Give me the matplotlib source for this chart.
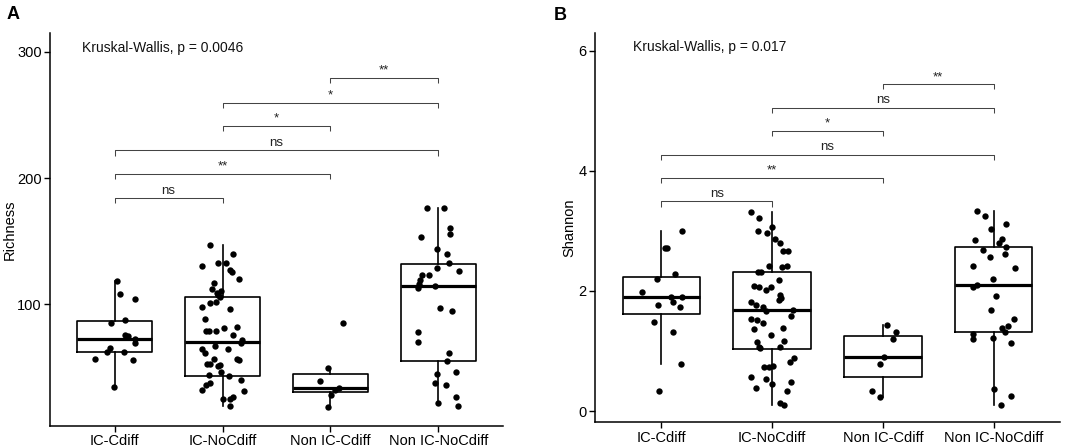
import matplotlib
matplotlib.use("Agg")
import matplotlib.pyplot as plt

plt.rcParams["font.family"] = ["Liberation Sans", "DejaVu Sans"]

# ============================================================
# DATA
# ============================================================

groups = ["IC-Cdiff", "IC-NoCdiff", "Non IC-Cdiff", "Non IC-NoCdiff"]

# --- Richness: jittered samples (value, horizontal jitter) ---
rich_vals = [
    [118.3, 107.8, 103.9, 85.5, 87.5, 75.7, 74.9, 72.3, 69.7, 65.2, 62.6, 62.2,
     57.0, 56.2, 34.9],
    [147.3, 140.2, 130.7, 132.9, 132.9, 127.0, 125.5, 120.2, 117.0, 112.3, 109.2,
     110.4, 107.0, 105.7, 97.8, 100.7, 101.7, 96.0, 88.0, 78.8, 78.8, 78.8, 81.0,
     82.3, 75.4, 71.5, 69.7, 64.4, 61.8, 67.0, 64.4, 57.0, 52.5, 53.0, 51.2, 52.0,
     56.4, 56.0, 44.4, 46.4, 42.9, 39.9, 35.9, 38.1, 32.0, 31.5, 24.9, 24.9, 26.7,
     19.6],
    [85.5, 49.4, 39.6, 33.8, 32.0, 28.6, 18.8],
    [176.3, 176.3, 160.2, 155.7, 153.4, 143.6, 140.0, 133.1, 129.1, 126.7, 123.3,
     123.3, 119.1, 115.7, 113.3, 114.9, 97.3, 94.4, 77.8, 70.5, 61.8, 54.9, 45.2,
     46.2, 38.1, 35.9, 26.7, 22.0, 19.4],
]
rich_jit = [
    [0.02, 0.05, 0.19, -0.03, 0.10, 0.10, 0.12, 0.19, 0.19, -0.04, -0.07, 0.09,
     -0.18, 0.17, -0.01],
    [-0.12, 0.10, -0.19, -0.04, 0.03, 0.07, 0.09, 0.15, -0.08, -0.10, -0.05,
     -0.01, -0.04, -0.02, -0.19, -0.12, -0.06, 0.07, -0.16, -0.15, -0.13, -0.06,
     0.01, 0.13, 0.10, 0.18, 0.17, -0.19, -0.16, -0.07, 0.05, -0.08, -0.14, -0.12,
     -0.04, -0.02, 0.13, 0.15, -0.13, -0.01, 0.06, 0.17, -0.15, -0.12, -0.19,
     0.20, 0.00, 0.07, 0.10, 0.07],
    [0.12, -0.02, -0.10, 0.08, 0.04, 0.01, -0.02],
    [-0.10, 0.05, 0.11, 0.11, -0.16, -0.01, 0.08, 0.10, -0.01, 0.19, -0.15,
     -0.09, -0.17, -0.18, -0.19, -0.03, 0.02, 0.13, -0.19, -0.19, 0.10, 0.08,
     -0.01, 0.16, -0.03, 0.07, 0.16, 0.00, 0.18],
]
# box statistics: lower whisker, q1, median, q3, upper whisker
rich_lo = [34.9, 19.6, 19.1, 22.3]
rich_q1 = [62.6, 43.6, 30.6, 54.9]
rich_med = [72.8, 69.9, 33.8, 114.7]
rich_q3 = [86.7, 105.7, 44.9, 132.3]
rich_hi = [118.3, 147.3, 49.1, 176.3]

rich_pairs = [(1, 2), (1, 3), (1, 4), (2, 3), (2, 4), (3, 4)]
rich_bracket_y = [184.0, 203.4, 221.8, 241.0, 259.7, 279.0]
rich_labels = ["ns", "**", "ns", "*", "*", "**"]
rich_kw = "Kruskal-Wallis, p = 0.0046"

# --- Shannon ---
shan_vals = [
    [3.00, 2.71, 2.71, 2.29, 2.20, 1.98, 1.90, 1.90, 1.82, 1.76, 1.74, 1.49,
     1.31, 0.79, 0.33],
    [3.32, 3.21, 3.06, 3.00, 2.96, 2.87, 2.79, 2.67, 2.67, 2.41, 2.40, 2.41,
     2.32, 2.31, 2.19, 2.08, 2.07, 2.01, 2.07, 1.94, 1.89, 1.85, 1.82, 1.76,
     1.73, 1.67, 1.69, 1.59, 1.54, 1.51, 1.47, 1.37, 1.39, 1.26, 1.15, 1.17,
     1.07, 1.05, 1.06, 0.88, 0.82, 0.73, 0.73, 0.745, 0.56, 0.53, 0.45, 0.48,
     0.38, 0.34, 0.14, 0.095],
    [1.43, 1.31, 1.20, 0.90, 0.79, 0.33, 0.23],
    [3.33, 3.245, 3.12, 3.03, 2.87, 2.84, 2.79, 2.73, 2.68, 2.61, 2.57, 2.41,
     2.39, 2.20, 2.07, 2.095, 1.91, 1.69, 1.54, 1.42, 1.39, 1.32, 1.29, 1.20,
     1.22, 1.13, 0.36, 0.245, 0.105],
]
shan_jit = [
    [0.19, 0.03, 0.05, 0.12, -0.04, -0.18, 0.09, 0.19, 0.10, -0.03, 0.17,
     -0.07, 0.10, 0.18, -0.02],
    [-0.19, -0.12, 0.00, -0.13, -0.05, 0.03, 0.07, 0.10, 0.14, -0.03, 0.09,
     0.13, -0.13, -0.10, 0.06, -0.16, -0.12, -0.06, -0.01, 0.07, 0.08, 0.06,
     -0.19, -0.15, -0.08, -0.06, 0.19, 0.17, -0.19, -0.14, -0.08, -0.16, 0.10,
     -0.01, -0.14, 0.11, -0.12, -0.11, 0.07, 0.20, 0.16, -0.07, -0.03, 0.01,
     -0.19, -0.06, 0.00, 0.17, -0.15, 0.13, 0.07, 0.11],
    [0.04, 0.12, 0.09, 0.01, -0.03, -0.10, -0.03],
    [-0.15, -0.08, 0.11, -0.02, 0.08, -0.17, 0.05, 0.11, -0.10, 0.10, -0.03,
     -0.19, 0.19, -0.01, -0.19, -0.15, 0.02, -0.02, 0.18, 0.13, 0.08, 0.10,
     -0.19, -0.19, -0.01, 0.16, 0.00, 0.16, 0.07],
]
shan_lo = [0.79, 0.095, 0.233, 0.106]
shan_q1 = [1.617, 1.033, 0.562, 1.317]
shan_med = [1.895, 1.69, 0.906, 2.095]
shan_q3 = [2.233, 2.317, 1.25, 2.733]
shan_hi = [2.995, 3.317, 1.428, 3.333]

shan_pairs = [(1, 2), (1, 3), (1, 4), (2, 3), (2, 4), (3, 4)]
shan_bracket_y = [3.49, 3.88, 4.27, 4.66, 5.05, 5.44]
shan_labels = ["ns", "**", "ns", "*", "ns", "**"]
shan_kw = "Kruskal-Wallis, p = 0.017"

# ============================================================
# PLOTTING
# ============================================================


def draw_panel(ax, vals, jit, lo, q1, med, q3, hi, pairs, bys, labels,
               kw_text, kw_pos, ylim, yticks, ylabel, tip):
    stats = []
    for i in range(len(groups)):
        stats.append(dict(whislo=lo[i], q1=q1[i], med=med[i], q3=q3[i],
                          whishi=hi[i], fliers=[]))
    ax.bxp(stats, positions=range(1, len(groups) + 1), widths=0.7,
           showfliers=False, showcaps=False,
           boxprops=dict(color="black", linewidth=1.2),
           whiskerprops=dict(color="black", linewidth=1.2),
           medianprops=dict(color="black", linewidth=2.3))

    for i, (v, j) in enumerate(zip(vals, jit)):
        xs = [i + 1 + d for d in j]
        ax.scatter(xs, v, s=21, color="black", zorder=3, linewidths=0)

    for (a, b), y, lab in zip(pairs, bys, labels):
        ax.plot([a, a, b, b], [y - tip, y, y, y - tip], color="#444444",
                linewidth=0.75, solid_capstyle="butt")
        ax.annotate(lab, xy=((a + b) / 2, y), xytext=(0, 1),
                    textcoords="offset points", ha="center", va="bottom",
                    fontsize=9.5, color="#222222")

    ax.text(kw_pos[0], kw_pos[1], kw_text, ha="left", va="center",
            fontsize=10, color="#111111")

    ax.set_xlim(0.4, 4.6)
    ax.set_ylim(*ylim)
    ax.set_xticks(range(1, len(groups) + 1))
    ax.set_xticklabels(groups)
    ax.set_yticks(yticks)
    ax.set_ylabel(ylabel, fontsize=10.5)
    for side in ("top", "right"):
        ax.spines[side].set_visible(False)
    for side in ("left", "bottom"):
        ax.spines[side].set_linewidth(1.1)
    ax.tick_params(axis="both", length=4, width=1.0, labelsize=10.5,
                   colors="black", pad=2)


fig = plt.figure(figsize=(10.84, 4.46), dpi=100)

ax_a = fig.add_axes([0.0461, 0.0455, 0.4179, 0.8805])
draw_panel(ax_a, rich_vals, rich_jit, rich_lo, rich_q1, rich_med, rich_q3,
           rich_hi, rich_pairs, rich_bracket_y, rich_labels,
           rich_kw, (0.70, 303), (3.9, 314.8), [100, 200, 300], "Richness", 4.0)
ax_a.yaxis.set_label_coords(-0.073, 0.5)

ax_b = fig.add_axes([0.5489, 0.0531, 0.4290, 0.8722])
draw_panel(ax_b, shan_vals, shan_jit, shan_lo, shan_q1, shan_med, shan_q3,
           shan_hi, shan_pairs, shan_bracket_y, shan_labels,
           shan_kw, (0.74, 6.07), (-0.188, 6.29), [0, 2, 4, 6], "Shannon", 0.085)
ax_b.yaxis.set_label_coords(-0.041, 0.5)

fig.text(0.006, 0.968, "A", fontsize=13, fontweight="bold", ha="left",
         va="center")
fig.text(0.511, 0.966, "B", fontsize=13, fontweight="bold", ha="left",
         va="center")

fig.savefig("out.png", dpi=100)
